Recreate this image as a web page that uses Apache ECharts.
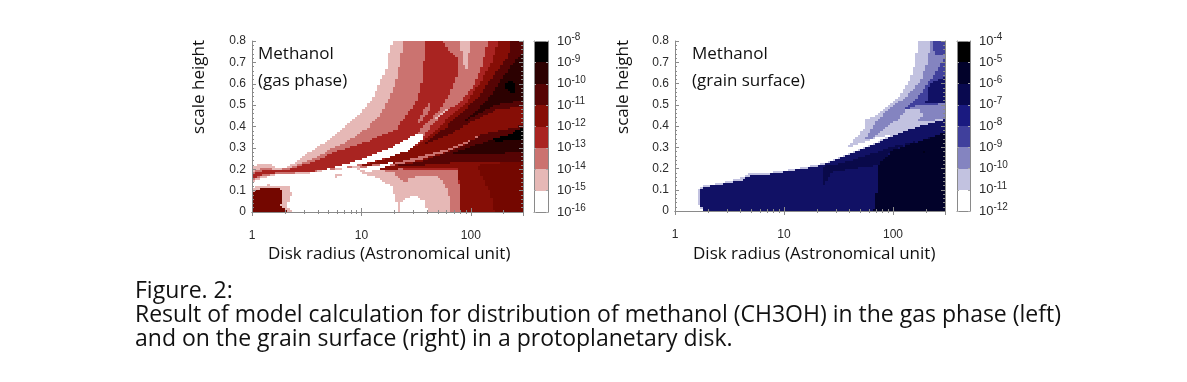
<!DOCTYPE html>
<html><head><meta charset="utf-8">
<style>html,body{margin:0;padding:0;background:#fff}#c{width:1187px;height:382px}</style>
<script src="https://cdn.jsdelivr.net/npm/echarts@6/dist/echarts.min.js"></script>
</head><body><div id="c"></div>
<script>
// Colour levels (log10 abundance bands)
const gasPalette=['#ffffff','#e6b8b6','#cb7370','#a92421','#860e06','#740700','#560404','#2c0101','#000000'];
const iceLevels=['#ffffff','#c2c2e0','#8484c0','#40409c','#111165','#09094a','#02022a','#000018'];
const gasBarLevels=[0,1,2,3,4,6,7,8];
const gasBarLabels=[-16,-15,-14,-13,-12,-11,-10,-9,-8];
const iceBarLabels=[-12,-11,-10,-9,-8,-7,-6,-5,-4];
const iceBarColors=['#ffffff','#c2c2e0','#8484c0','#40409c','#1a1a80','#09094f','#02022a','#000000'];
const xTickLabels=[1,10,100];

// Contours as [log10(radius in AU), scale height]
const gasOuter=[[0,.21],[.06,.225],[.14,.23],[.21,.212],[.29,.206],[.38,.23],[.47,.262],[.56,.293],[.72,.345],[.87,.405],[.99,.46],[1.11,.535],[1.17,.609],[1.22,.648],[1.26,.773],[1.29,.8],[2.477,.8],[2.477,0],[1.61,0],[1.57,.055],[1.48,.078],[1.37,.055],[1.34,0],[1.32,.047],[1.28,.117],[1.17,.156],[1.035,.177],[.96,.208],[.685,.196],[.56,.185],[.38,.178],[.23,.178],[.08,.158],[.02,.145],[0,.14]];
const gasBlock1=[[0,.103],[.03,.12],[.14,.128],[.33,.12],[.37,.086],[.34,.055],[.315,.023],[.39,0],[0,0]];
const gasBlock4=[[0,.09],[.08,.114],[.17,.117],[.27,.105],[.285,.07],[.26,.03],[.32,0],[0,0]];
const gasSpeck=[[.70,.169],[.807,.18],[.837,.178],[.776,.164]];
const gasMid=[[1.38,.8],[1.355,.711],[1.31,.602],[1.23,.508],[1.17,.453],[1.05,.391],[.87,.332],[.715,.295],[.56,.25],[.38,.212],[.23,.198],[.105,.21],[.03,.195],[0,.185],[0,.148],[.076,.166],[.23,.183],[.38,.183],[.56,.19],[.685,.198],[.96,.214],[1.29,.1875],[1.40,.133],[1.43,.156],[1.54,.172],[1.72,.164],[1.795,.094],[1.82,0],[2.477,0],[2.477,.8]];
const gasWedge=[[1.90,.8],[2.0,.8],[1.965,.67],[1.945,.67]];
const gasRed=[[0,.178],[.03,.183],[.105,.196],[.23,.194],[.38,.206],[.56,.238],[.715,.272],[.87,.303],[1.05,.33],[1.32,.39],[1.49,.505],[1.54,.57],[1.57,.69],[1.58,.8],[1.74,.8],[1.80,.75],[1.88,.72],[1.87,.633],[1.80,.547],[1.71,.469],[1.57,.406],[1.47,.34],[1.17,.26],[.87,.215],[.685,.2],[.56,.192],[.38,.186],[.23,.186],[.076,.173],[0,.155]];
const gasIsland=[[1.63,.516],[1.58,.484],[1.51,.422],[1.53,.414],[1.63,.477]];
const gasGlow=[[1.79,.48],[1.69,.445],[1.66,.43],[1.71,.43],[1.80,.47]];
const gasFan3=[[2.16,.8],[2.10,.68],[2.04,.6],[1.90,.508],[1.77,.469],[1.63,.398],[1.55,.344],[1.47,.312],[1.23,.257],[.96,.214],[1.23,.23],[1.17,.195],[1.35,.203],[1.54,.195],[1.87,.2],[1.90,.102],[1.90,0],[2.477,0],[2.477,.8]];
const gasFan4=[[2.25,.8],[2.19,.695],[2.08,.6],[1.96,.508],[1.78,.43],[1.69,.39],[1.57,.336],[1.45,.297],[1.23,.25],[.96,.214],[1.23,.228],[1.14,.195],[1.47,.208],[1.87,.203],[1.91,.102],[1.91,0],[2.477,0],[2.477,.8]];
const gasDeep=[[2.055,.219],[2.175,.094],[2.22,0],[2.477,0],[2.477,.242]];
const gasUpper=[[2.375,.8],[2.345,.727],[2.22,.648],[2.08,.54],[1.93,.47],[1.78,.4],[1.66,.354],[1.54,.314],[1.78,.36],[2.02,.424],[2.24,.477],[2.477,.492],[2.477,.8]];
const gasUpperDeep=[[2.477,.742],[2.39,.695],[2.30,.633],[2.18,.54],[2.05,.47],[1.93,.42],[2.05,.45],[2.23,.5],[2.477,.52]];
const gasSpot=[[2.32,.60],[2.36,.62],[2.41,.60],[2.41,.56],[2.37,.555],[2.33,.57]];
const gasLower=[[1.325,.22],[1.54,.236],[1.78,.281],[1.96,.32],[2.11,.366],[2.477,.406],[2.477,.234],[2.08,.238],[1.78,.23],[1.47,.216]];
const gasLowerDeep=[[1.81,.272],[2.02,.312],[2.17,.336],[2.477,.348],[2.477,.281],[2.08,.273]];
const gasBlack=[[2.15,.336],[2.33,.36],[2.477,.398],[2.477,.344],[2.27,.333]];
const gasStreak=[[1.17,.213],[1.47,.252],[1.75,.291],[1.96,.33],[2.08,.36],[1.96,.321],[1.75,.278],[1.47,.238],[1.17,.206]];
const gasLens=[[.685,.201],[.87,.228],[1.05,.258],[1.23,.292],[1.38,.332],[1.47,.36],[1.55,.372],[1.57,.345],[1.49,.312],[1.42,.288],[1.23,.254],[1.05,.231],[.87,.212]];
const gasGap=[[.975,.206],[1.17,.222],[1.32,.239],[1.20,.208],[1.06,.188]];

const iceOuter=[[.21,.083],[.217,.102],[.254,.119],[.407,.13],[.62,.157],[.682,.176],[.835,.18],[.988,.19],[1.232,.21],[1.355,.224],[1.538,.259],[1.66,.284],[1.844,.323],[2.0,.362],[2.15,.394],[2.303,.417],[2.477,.447],[2.477,0],[.254,0],[.208,.036]];
const iceMain=[[.222,.083],[.226,.098],[.26,.114],[.41,.124],[.62,.147],[.69,.168],[.84,.172],[.99,.183],[1.232,.204],[1.355,.218],[1.538,.253],[1.66,.278],[1.844,.317],[2,.356],[2.15,.388],[2.303,.411],[2.477,.44],[2.477,0],[.26,0],[.225,.036]];
const iceBand=[[1.355,.209],[1.36,.115],[1.446,.185],[1.86,.216],[2.0,.29],[2.477,.37],[2.477,.36],[2.0,.303],[1.54,.227]];
const iceCore=[[1.82,0],[1.86,.13],[1.86,.216],[2.0,.287],[2.477,.369],[2.477,0]];
const iceSpot=[[2.26,.285],[2.31,.285],[2.29,.265]];
const iceWedge1=[[1.575,.30],[1.66,.347],[1.737,.389],[1.752,.428],[1.875,.46],[2.06,.538],[2.18,.648],[2.226,.781],[2.235,.8],[2.477,.8],[2.477,.43],[2.15,.385],[2.03,.36],[1.844,.347],[1.72,.322],[1.575,.295]];
const iceWedge2=[[2.35,.8],[2.318,.711],[2.257,.616],[2.12,.538],[1.966,.483],[1.844,.42],[1.8,.389],[1.737,.334],[1.844,.35],[2.0,.397],[2.12,.44],[2.25,.42],[2.477,.435],[2.477,.8]];
const iceTop3=[[2.36,.8],[2.477,.8],[2.477,.73],[2.38,.73]];
const iceWedge3=[[2.477,.72],[2.38,.645],[2.318,.6],[2.24,.545],[2.09,.47],[2.24,.5],[2.477,.505]];
const iceWedge4=[[2.477,.632],[2.333,.6],[2.303,.507],[2.477,.507]];
const iceBlob=[[2.12,.476],[2.24,.484],[2.27,.445],[2.15,.405],[2.0,.373],[1.81,.342],[1.78,.334],[1.93,.389],[2.05,.436]];

const gasLayers=[[1,gasOuter],[1,gasBlock1],[5,gasBlock4],[1,gasSpeck],[2,gasMid],[1,gasWedge],[3,gasRed],[2,gasIsland],[1,gasGlow],[3,gasFan3],[4,gasFan4],[5,gasDeep],[6,gasUpper],[7,gasUpperDeep],[8,gasSpot],[6,gasLower],[7,gasLowerDeep],[8,gasBlack],[2,gasStreak],[0,gasLens],[0,gasGap]];
const iceLayers=[[1,iceOuter],[4,iceMain],[5,iceBand],[6,iceCore],[7,iceSpot],[1,iceWedge1],[2,iceWedge2],[3,iceTop3],[3,iceWedge3],[4,iceWedge4],[1,iceBlob]];

function inside(p,poly){let c=false;for(let i=0,j=poly.length-1;i<poly.length;j=i++){const a=poly[i],b=poly[j];
 if((a[1]>p[1])!==(b[1]>p[1])&&p[0]<(b[0]-a[0])*(p[1]-a[1])/(b[1]-a[1])+a[0])c=!c;}return c;}
function cells(layers){const out=[],nx=108,ny=85,lmax=Math.log10(300);
 for(let j=0;j<ny;j++){let start=0,cur=null;
  for(let i=0;i<=nx;i++){let lv=null;
   if(i<nx){lv=0;const p=[(i+.5)*lmax/nx,(j+.5)*.8/ny];for(const l of layers)if(inside(p,l[1]))lv=l[0];}
   if(lv!==cur){if(cur)out.push([Math.pow(10,start*lmax/nx),Math.pow(10,i*lmax/nx),j*.8/ny,(j+1)*.8/ny,cur]);start=i;cur=lv;}
  }}
 return out;}
function rects(colors){return function(p,api){const a=api.coord([api.value(0),api.value(2)]),b=api.coord([api.value(1),api.value(3)]);
 const x0=Math.round(a[0]),x1=Math.round(b[0]),y0=Math.round(a[1]),y1=Math.round(b[1]);
 return {type:'rect',shape:{x:x0,y:y1,width:x1-x0,height:y0-y1},style:{fill:colors[api.value(4)]}};};}

const gray='#8a8a8a',tickGray='#a8a8a8',ink='#111',labelC='#2b2b2b',sans='"Liberation Sans",sans-serif',hum='"Open Sans","Noto Sans",sans-serif';
const grids=[{left:252,top:41,width:271,height:171},{left:534,top:41,width:14,height:171},
 {left:675,top:41,width:270,height:170},{left:957,top:41,width:13,height:170}];
const xA=[],yA=[],series=[];
function panel(g,layers,colors){
 const line={lineStyle:{color:gray,width:1}};
 xA.push({type:'log',logBase:10,min:1,max:300,gridIndex:g,z:5,axisLine:{show:true,onZero:false,...line},axisTick:{show:true,inside:true,length:4,...line},
  minorTick:{show:true,splitNumber:9,length:2,lineStyle:{color:gray}},splitLine:{show:false},
  axisLabel:{margin:18,color:labelC,fontFamily:sans,fontSize:12,formatter:v=>xTickLabels.includes(v)?String(v):''}});
 xA.push({type:'log',logBase:10,min:1,max:300,gridIndex:g,position:'top',z:5,axisLine:{show:true,...line},axisTick:{show:true,inside:true,length:4,...line},
  minorTick:{show:true,splitNumber:9,length:2,lineStyle:{color:gray}},splitLine:{show:false},axisLabel:{show:false}});
 yA.push({type:'value',min:0,max:.8,interval:.1,gridIndex:g,z:5,axisLine:{show:true,onZero:false,...line},axisTick:{show:true,inside:true,length:4,...line},
  minorTick:{show:true,splitNumber:5,length:2,lineStyle:{color:gray}},splitLine:{show:false},
  axisLabel:{margin:6,color:labelC,fontFamily:sans,fontSize:12,formatter:v=>v===0?'0':v.toFixed(1)}});
 yA.push({type:'value',min:0,max:.8,interval:.1,gridIndex:g,position:'right',z:5,axisLine:{show:true,...line},axisTick:{show:true,inside:true,length:4,...line},
  minorTick:{show:true,splitNumber:5,length:2,lineStyle:{color:gray}},splitLine:{show:false},axisLabel:{show:false}});
 const xi=xA.length-2,yi=yA.length-2;
 series.push({type:'custom',xAxisIndex:xi,yAxisIndex:yi,data:cells(layers),renderItem:rects(colors),encode:{x:[0,1],y:[2,3]},silent:true,animation:false,clip:true,z:1});
}
function bar(g,labels,barColors){
 const line={lineStyle:{color:gray,width:1}};
 const lo=labels[0],hi=labels[labels.length-1];
 const tick={axisTick:{show:true,inside:true,length:2,lineStyle:{color:tickGray}},minorTick:{show:false}};
 xA.push({type:'value',min:0,max:1,gridIndex:g,z:5,axisLine:{show:true,onZero:false,...line},axisTick:{show:false},axisLabel:{show:false},splitLine:{show:false}});
 xA.push({type:'value',min:0,max:1,gridIndex:g,position:'top',z:5,axisLine:{show:true,...line},axisTick:{show:false},axisLabel:{show:false},splitLine:{show:false}});
 yA.push({type:'value',min:lo,max:hi,interval:1,gridIndex:g,position:'right',z:5,axisLine:{show:true,onZero:false,...line},...tick,splitLine:{show:false},
  axisLabel:{margin:9,color:labelC,fontFamily:sans,formatter:v=>'{b|10}{s|'+v+'}',rich:{b:{fontSize:13,fontFamily:sans,color:labelC},s:{fontSize:10,fontFamily:sans,color:labelC,verticalAlign:'top',padding:[0,0,7,0]}}}});
 yA.push({type:'value',min:lo,max:hi,interval:1,gridIndex:g,position:'left',z:5,axisLine:{show:true,onZero:false,...line},...tick,splitLine:{show:false},axisLabel:{show:false}});
 const xi=xA.length-2,yi=yA.length-2;
 const data=barColors.map((c,i)=>[0,1,lo+i,lo+i+1,i]);
 series.push({type:'custom',xAxisIndex:xi,yAxisIndex:yi,data,renderItem:rects(barColors),encode:{x:[0,1],y:[2,3]},silent:true,animation:false,z:1});
}
panel(0,gasLayers,gasPalette);
bar(1,gasBarLabels,gasBarLevels.map(i=>gasPalette[i]));
panel(2,iceLayers,iceLevels);
bar(3,iceBarLabels,iceBarColors);

function text(t,x,y,size){return {type:'text',x,y,z:10,style:{text:t,fill:ink,font:size+'px '+hum,textVerticalAlign:'middle'}};}
function vtext(t,x,y){return {type:'text',x,y,z:10,rotation:Math.PI/2,style:{text:t,fill:ink,font:'17px '+hum,textAlign:'center',textVerticalAlign:'middle'}};}
const graphic=[
 text('Methanol',258,54,17),text('(gas phase)',258,81,17),
 text('Methanol',692,54,17),text('(grain surface)',692,81,17),
 text('Disk radius (Astronomical unit)',268,254,17),text('Disk radius (Astronomical unit)',693,254,17),
 vtext('scale height',199,87),vtext('scale height',623,87),
 text('Figure. 2:',135,291,23),
 text('Result of model calculation for distribution of methanol (CH3OH) in the gas phase (left)',135,315,23),
 text('and on the grain surface (right) in a protoplanetary disk.',135,339,23)
];
const chart=echarts.init(document.getElementById('c'),null,{renderer:'canvas'});
chart.setOption({animation:false,backgroundColor:'#fff',grid:grids,xAxis:xA,yAxis:yA,series,graphic:{elements:graphic}});
</script></body></html>
